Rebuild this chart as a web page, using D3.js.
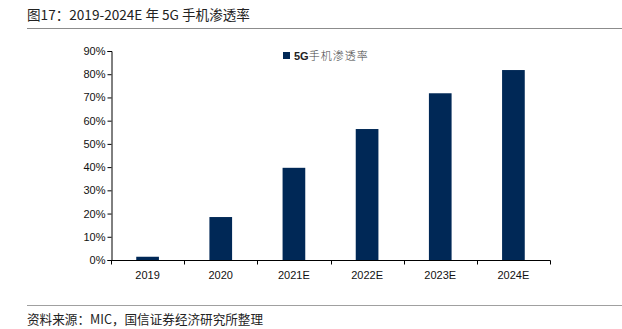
<!DOCTYPE html>
<html>
<head>
<meta charset="utf-8">
<script src="https://cdn.jsdelivr.net/npm/d3@7/dist/d3.min.js"></script>
<style>
  html, body { margin: 0; padding: 0; background: #fff; }
  svg { display: block; }
</style>
</head>
<body>
<svg id="chart" width="622" height="329"></svg>
<script>
// 5G handset penetration, 2019–2024E
const years = ["2019", "2020", "2021E", "2022E", "2023E", "2024E"];
const penetration = [1.4, 18.5, 39.7, 56.4, 71.8, 81.8];
const yTicks = [0, 10, 20, 30, 40, 50, 60, 70, 80, 90];
const seriesName = "5G手机渗透率";
const titleText = "图17：2019-2024E 年 5G 手机渗透率";
const sourceText = "资料来源：MIC，国信证券经济研究所整理";

const svg = d3.select("#chart");
const W = 622, H = 329;
const plot = { left: 111, right: 550, top: 51, bottom: 260 };
const barColor = "#002856";
const cjk = "'Noto Sans CJK SC', 'Noto Sans', sans-serif";
const latin = "'Liberation Sans', Arial, sans-serif";

// Header
svg.append("text")
  .attr("x", 27).attr("y", 20)
  .attr("font-family", cjk).attr("font-size", 13.6).attr("fill", "#222")
  .text(titleText);
svg.append("line")
  .attr("x1", 27).attr("x2", W).attr("y1", 28.5).attr("y2", 28.5)
  .attr("stroke", "#8c8c8c").attr("stroke-width", 1.2);

// Footer
svg.append("line")
  .attr("x1", 27).attr("x2", W).attr("y1", 305.5).attr("y2", 305.5)
  .attr("stroke", "#a0a0a0").attr("stroke-width", 1.2);
svg.append("text")
  .attr("x", 27).attr("y", 324)
  .attr("font-family", cjk).attr("font-size", 12.6).attr("fill", "#222")
  .text(sourceText);

// Scales
const x = d3.scaleBand().domain(years).range([plot.left, plot.right]).paddingInner(0.69).paddingOuter(0.345);
const xTicks = d3.scaleBand().domain(years).range([plot.left, plot.right]);
const y = d3.scaleLinear().domain([0, 90]).range([plot.bottom, plot.top]);

// Bars
svg.append("g").selectAll("rect")
  .data(years.map((yr, i) => ({ yr, v: penetration[i] })))
  .join("rect")
  .attr("x", d => x(d.yr))
  .attr("width", x.bandwidth())
  .attr("y", d => y(d.v))
  .attr("height", d => y(0) - y(d.v))
  .attr("fill", barColor);

// Y axis
const yAxis = svg.append("g")
  .attr("transform", `translate(${plot.left + 0.5},0)`)
  .call(d3.axisLeft(y).tickValues(yTicks).tickFormat(d => d + "%").tickSizeOuter(0).tickSize(4));
yAxis.select(".domain").attr("stroke", "#000");
yAxis.selectAll(".tick line").attr("stroke", "#000");
yAxis.selectAll(".tick text")
  .attr("font-family", latin).attr("font-size", 11).attr("fill", "#111").attr("x", -6);

// X axis with boundary ticks between categories
const xg = svg.append("g").attr("transform", `translate(0,${plot.bottom + 0.5})`);
xg.append("line")
  .attr("x1", plot.left).attr("x2", plot.right + 0.5)
  .attr("stroke", "#000");
const bounds = years.map(yr => xTicks(yr)).concat([plot.right]);
xg.selectAll("line.tk").data(bounds).join("line")
  .attr("class", "tk")
  .attr("x1", d => Math.round(d) + 0.5).attr("x2", d => Math.round(d) + 0.5)
  .attr("y1", 0).attr("y2", 4)
  .attr("stroke", "#000");
xg.selectAll("text").data(years).join("text")
  .attr("x", d => xTicks(d) + xTicks.bandwidth() / 2)
  .attr("y", 18)
  .attr("text-anchor", "middle")
  .attr("font-family", latin).attr("font-size", 11).attr("fill", "#111")
  .text(d => d);

// Legend
const lg = svg.append("g").attr("transform", "translate(283,52)");
lg.append("rect").attr("x", 0).attr("y", 0).attr("width", 7).attr("height", 7).attr("fill", barColor);
const lt = lg.append("text")
  .attr("x", 11).attr("y", 7.5)
  .attr("font-size", 11).attr("fill", "#222");
lt.append("tspan").attr("font-family", latin).attr("font-weight", "bold").text(seriesName.slice(0, 2));
lt.append("tspan").attr("font-family", cjk).attr("font-weight", 300).attr("fill", "#444")
  .attr("letter-spacing", 1).text(seriesName.slice(2));
</script>
</body>
</html>
